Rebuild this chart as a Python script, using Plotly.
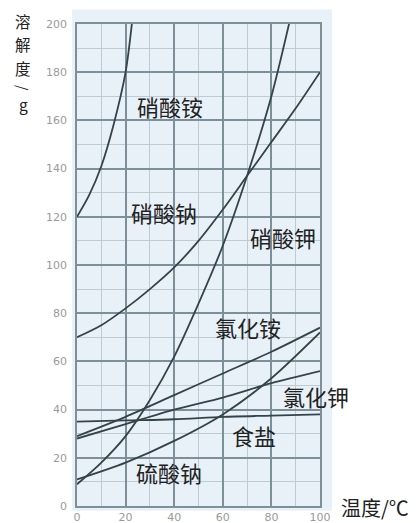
import plotly.graph_objects as go

# ---- data ----
t_nh4no3 = [0, 5, 10, 15, 20, 23]
s_nh4no3 = [120, 129, 141, 158, 180, 204]

t_full = [0, 10, 20, 30, 40, 50, 60, 70, 80, 90, 100]
s_nano3 = [70, 75, 82, 90, 99, 110, 123, 137, 151, 165, 180]

t_kno3 = [0, 10, 20, 30, 40, 50, 60, 70, 80, 90]
s_kno3 = [9, 18, 29, 44, 62, 84, 108, 137, 170, 212]

t_six = [0, 20, 40, 60, 80, 100]
s_nh4cl = [29, 37, 46, 55, 64, 74]
s_kcl = [28, 34, 40, 45, 51, 56]
s_nacl = [35, 35.5, 36, 37, 37.5, 38]
s_na2so4 = [11, 18, 27, 38, 53, 72]

labels = ["硝酸铵", "硝酸钠", "硝酸钾", "氯化铵", "氯化钾", "食盐", "硫酸钠"]
label_x = [38.3, 35.8, 84.8, 70.4, 98.4, 72.8, 37.9]
label_y = [166, 122, 111.6, 74.3, 45.6, 29.5, 14]

x_ticks = [0, 20, 40, 60, 80, 100]
y_ticks = [0, 20, 40, 60, 80, 100, 120, 140, 160, 180, 200]

y_title_chars = ["溶", "解", "度", "/", "g"]
x_title = "温度/℃"

LINE = "#34434a"
FONT = "Noto Sans CJK SC"
TXT = "#222"

fig = go.Figure()
series = [
    (t_nh4no3, s_nh4no3),
    (t_full, s_nano3),
    (t_kno3, s_kno3),
    (t_six, s_nh4cl),
    (t_six, s_kcl),
    (t_six, s_nacl),
    (t_six, s_na2so4),
]
for tx, sy in series:
    fig.add_trace(go.Scatter(x=tx, y=sy, mode="lines",
                             line=dict(color=LINE, width=1.8, shape="spline", smoothing=0.8),
                             showlegend=False, hoverinfo="skip"))

for txt, lx, ly in zip(labels, label_x, label_y):
    fig.add_annotation(x=lx, y=ly, xref="x", yref="y", text=txt, showarrow=False,
                       font=dict(family=FONT, size=22, color=TXT))

# vertical y-axis title, one character per annotation (paper coords)
title_py = [21, 44.5, 68, 88, 104]          # pixel centres from the top
title_size = [15.5, 15.5, 15.5, 14, 15.5]
for ch, py, sz in zip(y_title_chars, title_py, title_size):
    fig.add_annotation(x=-0.222, y=(506 - py) / 482, xref="paper", yref="paper", text=ch,
                       showarrow=False, xanchor="center", yanchor="middle",
                       textangle=90 if ch == "/" else 0,
                       font=dict(family=FONT, size=sz, color=TXT))

fig.add_annotation(x=1.226, y=-0.003, xref="paper", yref="paper",
                   text=x_title, showarrow=False, xanchor="center", yanchor="middle",
                   font=dict(family=FONT, size=20, color=TXT))

# light blue panel slightly larger than the plot area
fig.add_shape(type="rect", xref="paper", yref="paper", x0=-0.02, x1=1.05, y0=-0.01, y1=1.03,
              fillcolor="#e8f1f8", line=dict(width=0), layer="below")

axis_common = dict(showgrid=True, gridcolor="#7d8f98", gridwidth=1.6,
                   minor=dict(dtick=10, showgrid=True, gridcolor="#bccbd4", gridwidth=1),
                   zeroline=False, showline=True, linecolor="#7d8f98", linewidth=1.6, mirror=True,
                   tickfont=dict(family="DejaVu Sans", size=11, color="#9a9a9a"), ticks="",
                   automargin=False)
fig.update_xaxes(range=[0, 100], tickvals=x_ticks, ticktext=[str(v) for v in x_ticks],
                 **axis_common)
fig.update_yaxes(range=[0, 200], tickvals=y_ticks, ticktext=[str(v) for v in y_ticks],
                 ticklabelstandoff=6, **axis_common)

fig.update_layout(width=416, height=523, margin=dict(l=77, r=96, t=24, b=17),
                  paper_bgcolor="white", plot_bgcolor="rgba(0,0,0,0)",
                  showlegend=False)

fig.write_html("out.html")
